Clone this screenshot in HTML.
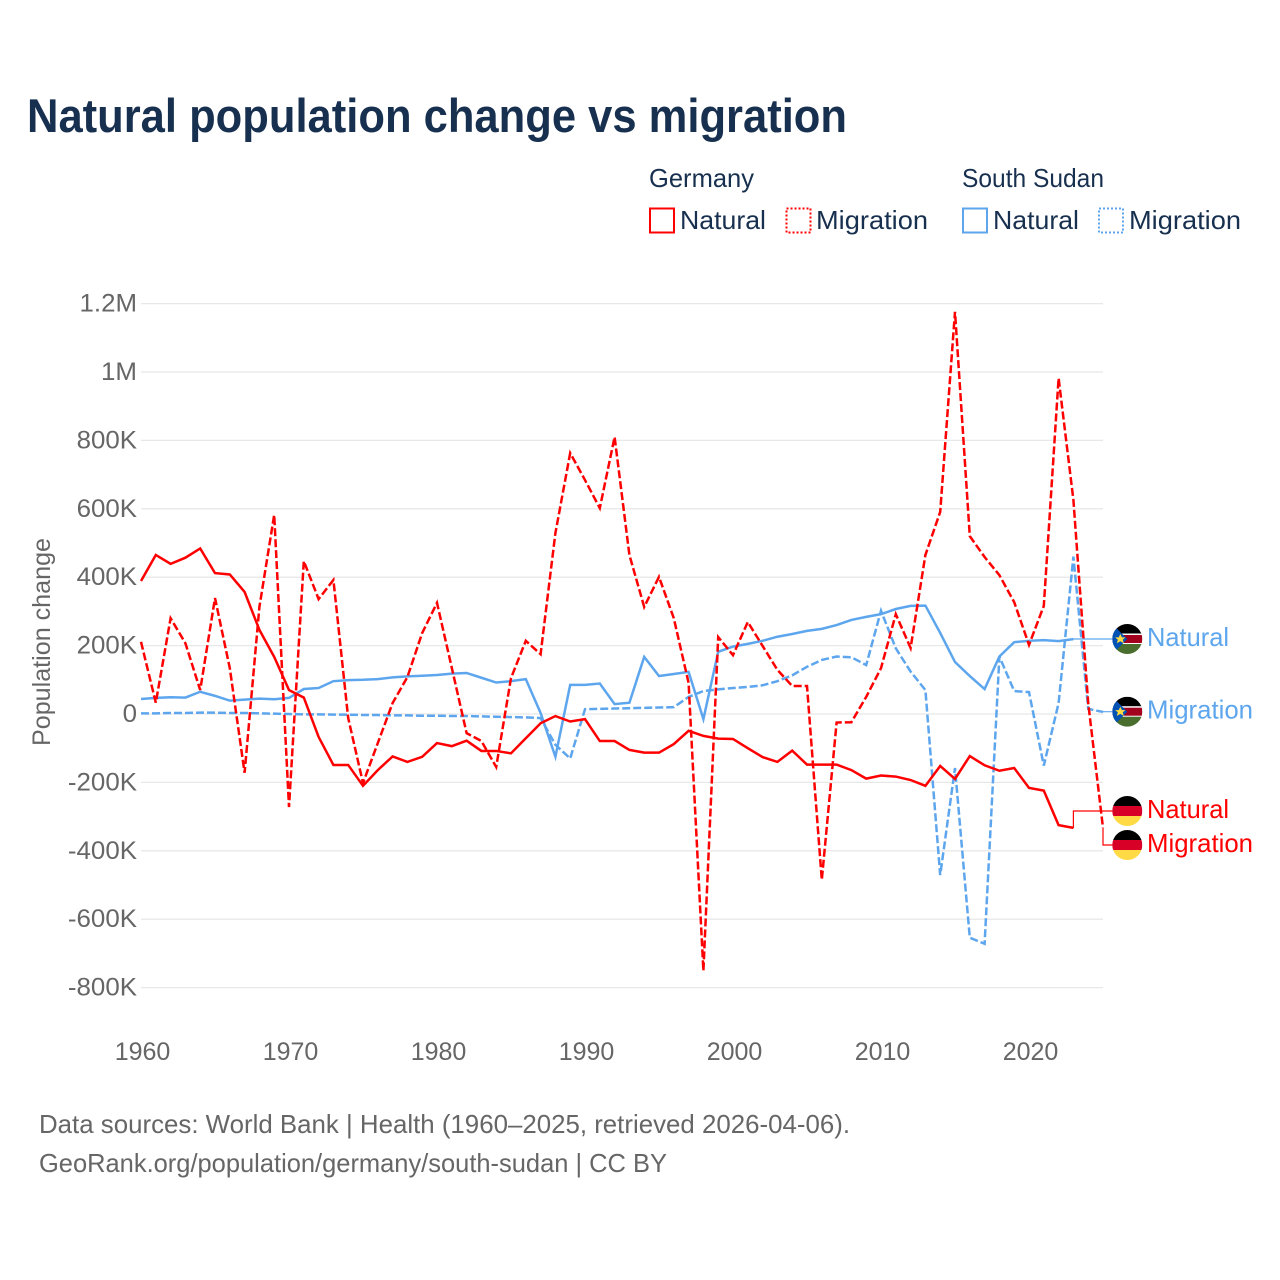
<!DOCTYPE html>
<html lang="en">
<head>
<meta charset="utf-8">
<title>Natural population change vs migration</title>
<style>
html,body{margin:0;padding:0;background:#fff;width:1280px;height:1280px;overflow:hidden}
svg{display:block}
text{font-family:"Liberation Sans",sans-serif}
</style>
</head>
<body>
<svg id="chart" xmlns="http://www.w3.org/2000/svg" width="1280" height="1280" viewBox="0 0 1280 1280">
  <defs>
    <clipPath id="flag-clip"><circle cx="0" cy="0" r="15"/></clipPath>
    <g id="flag-de" clip-path="url(#flag-clip)">
      <rect x="-15" y="-15" width="30" height="10" fill="#000"/>
      <rect x="-15" y="-5" width="30" height="10" fill="#d80027"/>
      <rect x="-15" y="5" width="30" height="10" fill="#ffda44"/>
    </g>
    <g id="flag-ss" clip-path="url(#flag-clip)">
      <rect x="-15" y="-15" width="30" height="10" fill="#000"/>
      <rect x="-15" y="-5.5" width="30" height="11" fill="#fff"/>
      <rect x="-15" y="-4" width="30" height="8" fill="#a2001d"/>
      <rect x="-15" y="5" width="30" height="10" fill="#496e2d"/>
      <polygon points="-15,-15 0,0 -15,15" fill="#0052b4"/>
      <polygon points="-7,-5 -5.4,-1.6 -1.8,-1.6 -4.5,0.6 -3.6,4.2 -7,2.2 -10.4,4.2 -9.5,0.6 -12.2,-1.6 -8.6,-1.6" fill="#ffda44"/>
    </g>
  </defs>

  <text x="27" y="132" font-size="47" font-weight="700" fill="#18304f" textLength="820" lengthAdjust="spacingAndGlyphs">Natural population change vs migration</text>

  <g fill="#18304f" font-size="26">
    <text x="649" y="187" textLength="105" lengthAdjust="spacingAndGlyphs">Germany</text>
    <text x="962" y="187" textLength="142" lengthAdjust="spacingAndGlyphs">South Sudan</text>
    <g>
      <rect x="650" y="208.500" width="24" height="24" fill="none" stroke="#ff0000" stroke-width="2"/>
      <text x="680" y="229" textLength="86" lengthAdjust="spacingAndGlyphs">Natural</text>
    </g>
    <g>
      <rect x="786.500" y="208.500" width="24" height="24" fill="none" stroke="#ff0000" stroke-width="2" stroke-dasharray="2 2"/>
      <text x="816" y="229" textLength="112" lengthAdjust="spacingAndGlyphs">Migration</text>
    </g>
    <g>
      <rect x="963" y="208.500" width="24" height="24" fill="none" stroke="#5da6ee" stroke-width="2"/>
      <text x="993" y="229" textLength="86" lengthAdjust="spacingAndGlyphs">Natural</text>
    </g>
    <g>
      <rect x="1099" y="208.500" width="24" height="24" fill="none" stroke="#5da6ee" stroke-width="2" stroke-dasharray="2 2"/>
      <text x="1129" y="229" textLength="112" lengthAdjust="spacingAndGlyphs">Migration</text>
    </g>
  </g>

  <text transform="translate(50,642) rotate(-90)" text-anchor="middle" font-size="25" fill="#666" textLength="208" lengthAdjust="spacingAndGlyphs">Population change</text>

  <g id="grid"></g>
  <g id="y-ticks"></g>
  <g id="x-ticks"></g>
  <g id="series"></g>
  <g id="end-labels"></g>

  <g font-size="26" fill="#666">
    <text x="39" y="1133" textLength="811" lengthAdjust="spacingAndGlyphs">Data sources: World Bank | Health (1960–2025, retrieved 2026-04-06).</text>
    <text x="39" y="1172" textLength="628" lengthAdjust="spacingAndGlyphs">GeoRank.org/population/germany/south-sudan | CC BY</text>
  </g>
</svg>

<script>
// Chart data (values in thousands of people, one per year from firstYear)
const firstYear = 1960;
const yTickValues = [1200, 1000, 800, 600, 400, 200, 0, -200, -400, -600, -800];
const yTickLabels = ['1.2M', '1M', '800K', '600K', '400K', '200K', '0', '-200K', '-400K', '-600K', '-800K'];
const xTickYears = [1960, 1970, 1980, 1990, 2000, 2010, 2020];

const germanyNatural = [
  389, 465, 439, 457, 484, 412, 408, 357, 246, 167,
  70, 48, -67, -149, -149, -210, -164, -124, -140, -125,
  -85, -94, -78, -108, -108, -115, -71, -27, -6, -22,
  -15, -79, -79, -105, -113, -113, -88, -49, -64, -72,
  -73, -100, -126, -140, -107, -148, -148, -148, -164, -189,
  -180, -183, -193, -210, -152, -190, -123, -150, -166, -158,
  -216, -224, -325, -333
];
const germanyMigration = [
  211, 33, 280, 207, 70, 339, 134, -172, 313, 582,
  -272, 447, 336, 392, -12, -202, -85, 32, 108, 237,
  325, 135, -56, -79, -155, 105, 214, 175, 529, 763,
  684, 602, 810, 465, 313, 401, 280, 91, -751, 225,
  172, 269, 199, 129, 82, 82, -485, -25, -24, 50,
  134, 292, 193, 465, 591, 1176, 520, 459, 406, 327,
  202, 316, 982, 626, 32, -333
];
const southSudanNatural = [
  44, 47, 49, 48, 65, 53, 39, 42, 45, 43,
  47, 73, 76, 96, 99, 100, 102, 107, 110, 112,
  114, 118, 120, 106, 92, 96, 102, 3, -125, 85,
  85, 89, 29, 33, 167, 111, 117, 123, -15, 182,
  197, 205, 214, 226, 234, 243, 249, 260, 275, 284,
  292, 307, 316, 317, 237, 152, 111, 73, 168, 210,
  214, 216, 213, 219
];
const southSudanMigration = [
  2, 2, 3, 3, 4, 4, 3, 3, 2, 1,
  0, -1, -1, -2, -2, -3, -3, -4, -4, -5,
  -5, -6, -6, -7, -8, -9, -10, -12, -90, -130,
  14, 15, 16, 17, 18, 19, 20, 50, 67, 72,
  76, 79, 84, 96, 113, 138, 158, 168, 166, 143,
  302, 192, 124, 70, -471, -158, -654, -672, 168, 67,
  64, -151, 32, 460, 15, 6
];

// Axis functions
function xScale(year) { return 141 + (year - 1960) * (1103 - 141) / 65; }
function yScale(v) { return 714 - v * 0.342; }

const svgNS = 'http://www.w3.org/2000/svg';
function make(tag, parent, attrs) {
  const el = document.createElementNS(svgNS, tag);
  Object.keys(attrs).forEach(function (k) { el.setAttribute(k, attrs[k]); });
  parent.appendChild(el);
  return el;
}

const gridGroup = document.getElementById('grid');
const yTickGroup = document.getElementById('y-ticks');
yTickValues.forEach(function (v, i) {
  const line = make('line', gridGroup, { x1: 141, x2: 1103, y1: yScale(v), y2: yScale(v), stroke: '#e8e8e8', 'stroke-width': 1.3 });
  
  
  const t = make('text', yTickGroup, { x: 137, y: yScale(v) + 8, 'text-anchor': 'end', 'font-size': 25, fill: '#666' });
  t.textContent = yTickLabels[i];
  
  
  t.setAttribute('textLength', (t.getComputedTextLength() * 1.035).toFixed(1));
  t.setAttribute('lengthAdjust', 'spacingAndGlyphs');
});

const xTickGroup = document.getElementById('x-ticks');
xTickYears.forEach(function (yr) {
  const t = make('text', xTickGroup, { x: xScale(yr) + 1.5, y: 1060, 'text-anchor': 'middle', 'font-size': 25, fill: '#666' });
  t.textContent = yr;
  
  
});

function drawSeries(values, color, dashed, name) {
  const pts = values.map(function (v, i) {
    return xScale(firstYear + i).toFixed(2) + ',' + yScale(v).toFixed(2);
  }).join(' ');
  const attrs = { points: pts, fill: 'none', stroke: color, 'stroke-width': 2.5, 'stroke-linejoin': 'miter' };
  if (dashed) attrs['stroke-dasharray'] = '8 3';
  const line = make('polyline', document.getElementById('series'), attrs);
  
  
}
const red = '#ff0000';
const blue = '#5da6ee';
drawSeries(southSudanMigration, blue, true, 'line-south-sudan-migration');
drawSeries(southSudanNatural, blue, false, 'line-south-sudan-natural');
drawSeries(germanyMigration, red, true, 'line-germany-migration');
drawSeries(germanyNatural, red, false, 'line-germany-natural');

function drawEnd(values, labelY, textOffset, color, flag, text, width, name) {
  const lastIndex = values.length - 1;
  const px = xScale(firstYear + lastIndex);
  const py = yScale(values[lastIndex]);
  const group = document.getElementById('end-labels');
  const conn = make('polyline', group, {
    points: px + ',' + py + ' ' + px + ',' + labelY + ' 1113,' + labelY,
    fill: 'none', stroke: color, 'stroke-width': 1.2
  });
  
  
  const f = make('use', group, { href: '#' + flag, transform: 'translate(1127.3,' + labelY + ')' });
  
  
  const t = make('text', group, { x: 1147, y: labelY + textOffset, 'font-size': 26, fill: color, textLength: width, lengthAdjust: 'spacingAndGlyphs' });
  t.textContent = text;
  
  
}
drawEnd(southSudanNatural, 639, 7, blue, 'flag-ss', 'Natural', 82, 'end-south-sudan-natural');
drawEnd(southSudanMigration, 711.700, 7, blue, 'flag-ss', 'Migration', 106, 'end-south-sudan-migration');
drawEnd(germanyNatural, 811, 7, red, 'flag-de', 'Natural', 82, 'end-germany-natural');
drawEnd(germanyMigration, 845, 7, red, 'flag-de', 'Migration', 106, 'end-germany-migration');
</script>
</body>
</html>
